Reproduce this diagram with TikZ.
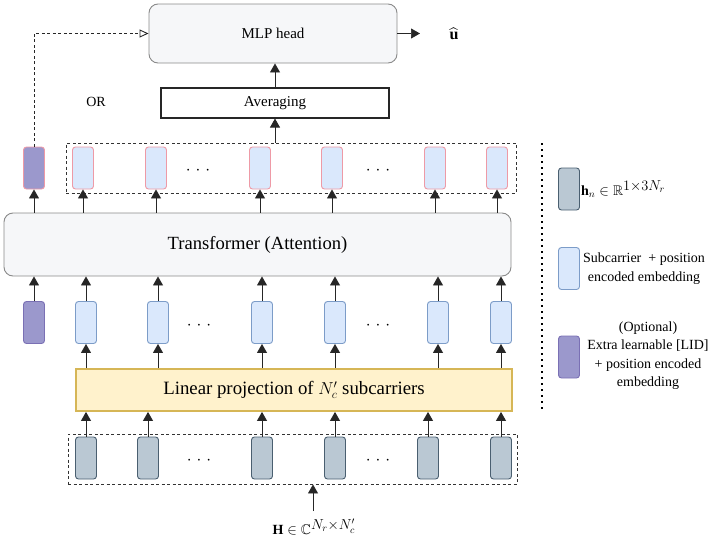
\documentclass[tikz,border=0pt]{standalone}
\usepackage{amssymb}
\usepackage{fontspec}
\setmainfont{Liberation Serif}
\usetikzlibrary{arrows.meta}
\definecolor{gfill}{HTML}{BAC8D3}
\definecolor{gline}{HTML}{4A5F70}
\definecolor{bfill}{HTML}{DAE8FC}
\definecolor{bline}{HTML}{7C9CC8}
\definecolor{pfill}{HTML}{9B98CC}
\definecolor{pline}{HTML}{7A70B4}
\definecolor{rline}{HTML}{EE9AA6}
\definecolor{yfill}{HTML}{FFF2CC}
\definecolor{yline}{HTML}{D6B656}
\definecolor{boxfill}{HTML}{F6F7F9}
\definecolor{boxline}{HTML}{8A8A8A}
\tikzset{
  tok/.style={rectangle, rounded corners=3pt, minimum width=21pt, minimum height=42pt, inner sep=0pt, line width=0.9pt},
  tokgray/.style={tok, fill=gfill, draw=gline},
  tokblue/.style={tok, fill=bfill, draw=bline},
  tokpurple/.style={tok, fill=pfill, draw=pline},
  tokout/.style={tok, fill=bfill, draw=rline},
  tokoutp/.style={tok, fill=pfill, draw=rline},
  arr/.style={-{Triangle[length=9pt,width=10pt]}, line width=0.9pt, draw=black!85},
  dots/.style={font=\fontsize{18}{18}\selectfont, inner sep=0pt},
  dbox/.style={draw=black!80, dashed, dash pattern=on 3pt off 2.5pt, line width=0.9pt, minimum height=50pt, inner sep=0pt},
  txt/.style={font=\fontsize{14}{18.5}\selectfont, inner sep=0pt, align=center},
}
\begin{document}
\begin{tikzpicture}[x=1pt, y=-1pt]
\useasboundingbox (0,0) rectangle (720,549);
% boxes
\node[draw=boxline, fill=boxfill, rounded corners=9pt, minimum width=248pt, minimum height=59pt, line width=0.9pt, font=\fontsize{15}{18}\selectfont] (mlp) at (273,33.5) {MLP head};
\node[draw=black!85, fill=white, minimum width=228pt, minimum height=30pt, line width=1.1pt, inner sep=0pt, font=\fontsize{15}{18}\selectfont] (avg) at (275,103) {Averaging};
\node[font=\fontsize{14}{18}\selectfont, inner sep=0pt] (or) at (96,102) {OR};
\node[draw=boxline, fill=boxfill, rounded corners=9pt, minimum width=507pt, minimum height=63pt, line width=0.9pt, font=\fontsize{18.6}{22}\selectfont] (tr) at (257.5,244.5) {Transformer (Attention)};
\node[draw=yline, fill=yfill, minimum width=436pt, minimum height=42pt, line width=1.8pt, font=\fontsize{18.8}{22}\selectfont] (lin) at (294,390) {Linear projection of $N_c'$ subcarriers};
% dashed groups
\node[dbox, minimum width=450pt] (topbox) at (291,168) {};
\node[dbox, minimum width=449pt] (botbox) at (292.5,459) {};
% top row
\node[tokoutp] (t1) at (34,168) {};
\node[tokout] (t2) at (83,168) {};
\node[tokout] (t3) at (156,168) {};
\node[tokout] (t4) at (260,168) {};
\node[tokout] (t5) at (332,168) {};
\node[tokout] (t6) at (435,168) {};
\node[tokout] (t7) at (497,168) {};
\node[dots] (td1) at (198,171) {$\cdot$\hspace{5pt}$\cdot$\hspace{5pt}$\cdot$};
\node[dots] (td2) at (378,171) {$\cdot$\hspace{5pt}$\cdot$\hspace{5pt}$\cdot$};
% middle row
\node[tokpurple] (m1) at (34,322.5) {};
\node[tokblue] (m2) at (86,322.5) {};
\node[tokblue] (m3) at (158,322.5) {};
\node[tokblue] (m4) at (262,322.5) {};
\node[tokblue] (m5) at (335,322.5) {};
\node[tokblue] (m6) at (438,322.5) {};
\node[tokblue] (m7) at (501,322.5) {};
\node[dots] (md1) at (199,326) {$\cdot$\hspace{5pt}$\cdot$\hspace{5pt}$\cdot$};
\node[dots] (md2) at (378,326) {$\cdot$\hspace{5pt}$\cdot$\hspace{5pt}$\cdot$};
% bottom row
\node[tokgray] (b1) at (86,458) {};
\node[tokgray] (b2) at (148,458) {};
\node[tokgray] (b3) at (262,458) {};
\node[tokgray] (b4) at (335,458) {};
\node[tokgray] (b5) at (428,458) {};
\node[tokgray] (b6) at (501,458) {};
\node[dots] (bd1) at (199,461) {$\cdot$\hspace{5pt}$\cdot$\hspace{5pt}$\cdot$};
\node[dots] (bd2) at (378,461) {$\cdot$\hspace{5pt}$\cdot$\hspace{5pt}$\cdot$};
% arrows bottom -> linear
\foreach \b in {b1,b2,b3,b4,b5,b6} \draw[arr] (\b.north) -- (lin.south -| \b);
% linear -> middle
\foreach \m in {m2,m3,m4,m5,m6,m7} \draw[arr] (lin.north -| \m) -- (\m.south);
% middle -> transformer
\foreach \m in {m1,m2,m3,m4,m5,m6,m7} \draw[arr] (\m.north) -- (tr.south -| \m);
% transformer -> top
\foreach \t in {t1,t2,t3,t4,t5,t6,t7} \draw[arr] (tr.north -| \t) -- (\t.south);
% top -> averaging -> mlp
\draw[arr] (topbox.north -| avg) -- (avg.south);
\draw[arr] (avg.north) -- (mlp.south -| avg);
% mlp -> output
\coordinate (outend) at (420,33.5);
\draw[arr, line width=0.7pt] (mlp.east) -- (outend);
\node[font=\fontsize{16}{18}\selectfont, inner sep=0pt] (uhat) at (454,34) {$\widehat{\mathbf{u}}$};
% dashed CLS path
\draw[dashed, dash pattern=on 3pt off 2.5pt, line width=0.9pt, draw=black!85, -{Triangle[open, length=9pt, width=8pt]}] (t1.north) |- (mlp.west);
% input
\coordinate (inp) at (313,511);
\draw[arr] (inp) -- (botbox.south -| inp);
\node[font=\fontsize{14}{16}\selectfont, inner sep=0pt] (H) at (314,527) {$\mathbf{H}\in\mathbb{C}^{\textstyle N_r{\times}N_c'}$};
% legend
\coordinate (ls) at (542,143);
\coordinate (le) at (542,410);
\draw[line width=1.6pt, dash pattern=on 1.6pt off 4.4pt] (ls) -- (le);
\node[tokgray] (lg1) at (569,189) {};
\node[font=\fontsize{14}{16}\selectfont, anchor=west, inner sep=0pt] (lt1) at ([xshift=1pt]lg1.east) {$\mathbf{h}_n\in\mathbb{R}^{\textstyle 1{\times}3N_r}$};
\node[tokblue] (lg2) at (569,268.5) {};
\node[txt] (lt2) at (644,268.5) {Subcarrier\ \ + position\\encoded embedding};
\node[tokpurple] (lg3) at (569,357) {};
\node[txt] (lt3) at (648,355.5) {(Optional)\\Extra learnable [LID]\\+ position encoded\\embedding};
\end{tikzpicture}
\end{document}
